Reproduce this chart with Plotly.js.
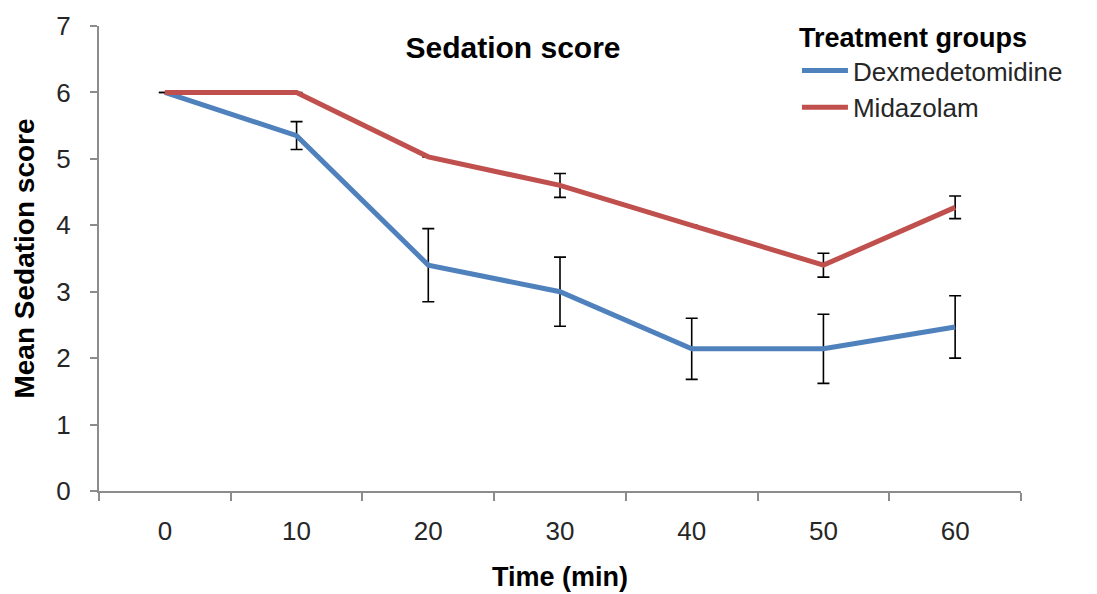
<!DOCTYPE html>
<html>
<head>
<meta charset="utf-8">
<script src="https://cdn.plot.ly/plotly-3.0.1.min.js"></script>
<style>html,body{margin:0;padding:0;background:#fff}#chart{width:1097px;height:594px}</style>
</head>
<body>
<div id="chart"></div>
<script>
const timeLabels = ['0', '10', '20', '30', '40', '50', '60'];
const dexMean = [6.0, 5.35, 3.40, 3.0, 2.14, 2.14, 2.47];
const dexErr  = [0, 0.21, 0.55, 0.52, 0.46, 0.52, 0.47];
const midMean = [6.0, 6.0, 5.03, 4.60, 4.0, 3.40, 4.27];
const midErr  = [0, 0, 0, 0.18, 0, 0.18, 0.17];
const seriesNames = ['Dexmedetomidine', 'Midazolam'];

const font = 'Liberation Sans, Arial, sans-serif';
const traces = [
  {
    x: timeLabels, y: dexMean, name: seriesNames[0], type: 'scatter', mode: 'lines',
    line: {color: '#4F81BD', width: 5},
    error_y: {type: 'data', array: dexErr, visible: true, color: '#000', thickness: 1.6, width: 6}
  },
  {
    x: timeLabels, y: midMean, name: seriesNames[1], type: 'scatter', mode: 'lines',
    line: {color: '#C0504D', width: 5},
    error_y: {type: 'data', array: midErr, visible: true, color: '#000', thickness: 1.6, width: 6}
  }
];

const layout = {
  width: 1097, height: 594,
  margin: {l: 99, r: 76, t: 24, b: 103},
  paper_bgcolor: '#fff', plot_bgcolor: '#fff',
  font: {family: font, color: '#262626'},
  title: {text: 'Sedation score', font: {family: font, size: 30, weight: 'bold', color: '#000'},
          x: 0.449, xref: 'paper', xanchor: 'center', y: 1 - 47/594, yref: 'container', yanchor: 'middle'},
  xaxis: {
    type: 'category', range: [-0.5, 6.5],
    showline: true, linecolor: '#8c8c8c', linewidth: 2,
    ticks: 'outside', tickson: 'boundaries', ticklen: 8, tickcolor: '#8c8c8c', tickwidth: 2,
    ticklabelstandoff: 16,
    showgrid: false, zeroline: false,
    tickfont: {family: font, size: 26, color: '#262626'},
    title: {text: 'Time (min)', font: {family: font, size: 27, weight: 'bold', color: '#000'}, standoff: 22}
  },
  yaxis: {
    range: [0, 7], dtick: 1, tick0: 0,
    showline: true, linecolor: '#8c8c8c', linewidth: 2,
    ticks: 'outside', ticklen: 7, tickcolor: '#8c8c8c', tickwidth: 2,
    ticklabelstandoff: 14,
    showgrid: false, zeroline: false,
    tickfont: {family: font, size: 26, color: '#262626'},
    title: {text: 'Mean Sedation score', font: {family: font, size: 28, weight: 'bold', color: '#000'}, standoff: 14}
  },
  showlegend: true,
  legend: {
    x: 0.757, y: 1.03, xanchor: 'left', yanchor: 'top',
    bgcolor: 'rgba(0,0,0,0)',
    font: {family: font, size: 26, color: '#262626'},
    title: {text: 'Treatment groups', side: 'top', font: {family: font, size: 27, weight: 'bold', color: '#000'}},
    tracegroupgap: 0, itemwidth: 46
  }
};

Plotly.newPlot('chart', traces, layout, {displayModeBar: false, staticPlot: true});
</script>
</body>
</html>
